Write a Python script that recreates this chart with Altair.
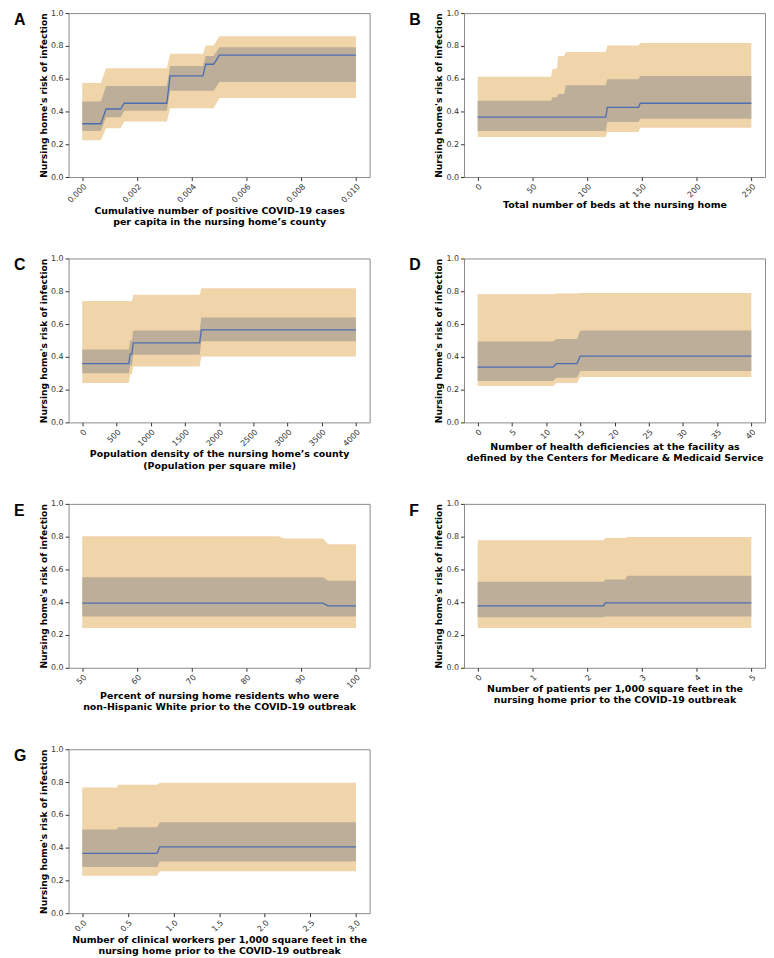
import altair as alt
import pandas as pd

# ---------------- data ----------------
Y_TICKS = [0.0, 0.2, 0.4, 0.6, 0.8, 1.0]
Y_TITLE = "Nursing home's risk of infection"

# Panel A
a_x = [0.0, 0.00068, 0.00087, 0.0014, 0.00153, 0.00309, 0.00321, 0.00441, 0.00451, 0.0048, 0.00501, 0.010]
a_mean = [0.325, 0.325, 0.415, 0.415, 0.45, 0.45, 0.617, 0.617, 0.688, 0.688, 0.744, 0.744]
a_ilo = [0.28, 0.28, 0.365, 0.365, 0.405, 0.405, 0.526, 0.526, 0.526, 0.526, 0.58, 0.58]
a_ihi = [0.46, 0.46, 0.556, 0.556, 0.556, 0.556, 0.677, 0.677, 0.738, 0.738, 0.792, 0.792]
a_olo = [0.224, 0.224, 0.298, 0.298, 0.339, 0.339, 0.419, 0.419, 0.419, 0.419, 0.482, 0.482]
a_ohi = [0.573, 0.573, 0.663, 0.663, 0.663, 0.663, 0.752, 0.752, 0.802, 0.802, 0.859, 0.859]
a_ticks = [0.0, 0.002, 0.004, 0.006, 0.008, 0.010]
a_title = ["Cumulative number of positive COVID-19 cases", "per capita in the nursing home\u2019s county"]

# Panel B
b_x = [0, 67, 68.5, 72.5, 73.5, 79, 80.5, 117, 118.5, 147, 148.5, 250]
b_mean = [0.365, 0.365, 0.365, 0.365, 0.365, 0.365, 0.365, 0.365, 0.425, 0.425, 0.45, 0.45]
b_ilo = [0.28, 0.28, 0.28, 0.28, 0.28, 0.28, 0.28, 0.28, 0.335, 0.335, 0.355, 0.355]
b_ihi = [0.466, 0.466, 0.486, 0.486, 0.506, 0.506, 0.56, 0.56, 0.597, 0.597, 0.617, 0.617]
b_olo = [0.244, 0.244, 0.244, 0.244, 0.244, 0.244, 0.244, 0.244, 0.274, 0.274, 0.30, 0.30]
b_ohi = [0.611, 0.611, 0.661, 0.661, 0.738, 0.738, 0.762, 0.762, 0.802, 0.802, 0.817, 0.817]
b_ticks = [0, 50, 100, 150, 200, 250]
b_title = ["Total number of beds at the nursing home"]

# Panel C
c_x = [0, 680, 700, 725, 745, 1716, 1740, 4000]
c_mean = [0.358, 0.358, 0.418, 0.418, 0.485, 0.485, 0.564, 0.564]
c_ilo = [0.30, 0.30, 0.347, 0.347, 0.412, 0.412, 0.495, 0.495]
c_ihi = [0.444, 0.444, 0.50, 0.50, 0.56, 0.56, 0.64, 0.64]
c_olo = [0.24, 0.24, 0.293, 0.293, 0.341, 0.341, 0.402, 0.402]
c_ohi = [0.741, 0.741, 0.741, 0.741, 0.778, 0.778, 0.818, 0.818]
c_ticks = [0, 500, 1000, 1500, 2000, 2500, 3000, 3500, 4000]
c_title = ["Population density of the nursing home\u2019s county", "(Population per square mile)"]

# Panel D
d_x = [0, 11, 11.5, 14.5, 15, 40]
d_mean = [0.337, 0.337, 0.358, 0.358, 0.404, 0.404]
d_ilo = [0.253, 0.253, 0.273, 0.273, 0.313, 0.313]
d_ihi = [0.493, 0.493, 0.509, 0.509, 0.56, 0.56]
d_olo = [0.222, 0.222, 0.24, 0.24, 0.277, 0.277]
d_ohi = [0.782, 0.782, 0.786, 0.786, 0.79, 0.79]
d_ticks = [0, 5, 10, 15, 20, 25, 30, 35, 40]
d_title = ["Number of health deficiencies at the facility as",
           "defined by the Centers for Medicare & Medicaid Service"]

# Panel E
e_x = [50, 85.9, 86.8, 94, 94.9, 100]
e_mean = [0.394, 0.394, 0.394, 0.394, 0.378, 0.378]
e_ilo = [0.313, 0.313, 0.313, 0.313, 0.313, 0.313]
e_ihi = [0.552, 0.552, 0.552, 0.552, 0.531, 0.531]
e_olo = [0.242, 0.242, 0.242, 0.242, 0.242, 0.242]
e_ohi = [0.802, 0.802, 0.788, 0.788, 0.754, 0.754]
e_ticks = [50, 60, 70, 80, 90, 100]
e_title = ["Percent of nursing home residents who were",
           "non-Hispanic White prior to the COVID-19 outbreak"]

# Panel F
f_x = [0, 2.3, 2.33, 2.7, 2.73, 5]
f_mean = [0.378, 0.378, 0.396, 0.396, 0.396, 0.396]
f_ilo = [0.309, 0.309, 0.313, 0.313, 0.313, 0.313]
f_ihi = [0.525, 0.525, 0.539, 0.539, 0.562, 0.562]
f_olo = [0.242, 0.242, 0.242, 0.242, 0.242, 0.242]
f_ohi = [0.778, 0.778, 0.792, 0.792, 0.798, 0.798]
f_ticks = [0, 1, 2, 3, 4, 5]
f_title = ["Number of patients per 1,000 square feet in the",
           "nursing home prior to the COVID-19 outbreak"]

# Panel G
g_x = [0, 0.38, 0.39, 0.82, 0.85, 3.0]
g_mean = [0.365, 0.365, 0.365, 0.365, 0.405, 0.405]
g_ilo = [0.282, 0.282, 0.282, 0.282, 0.315, 0.315]
g_ihi = [0.51, 0.51, 0.524, 0.524, 0.554, 0.554]
g_olo = [0.228, 0.228, 0.228, 0.228, 0.256, 0.256]
g_ohi = [0.766, 0.766, 0.784, 0.784, 0.796, 0.796]
g_ticks = [0.0, 0.5, 1.0, 1.5, 2.0, 2.5, 3.0]
g_title = ["Number of clinical workers per 1,000 square feet in the",
           "nursing home prior to the COVID-19 outbreak"]

PANELS = [
    ("A", a_x, a_mean, a_ilo, a_ihi, a_olo, a_ohi, a_ticks, ".3f", a_title),
    ("B", b_x, b_mean, b_ilo, b_ihi, b_olo, b_ohi, b_ticks, "d", b_title),
    ("C", c_x, c_mean, c_ilo, c_ihi, c_olo, c_ohi, c_ticks, "d", c_title),
    ("D", d_x, d_mean, d_ilo, d_ihi, d_olo, d_ohi, d_ticks, "d", d_title),
    ("E", e_x, e_mean, e_ilo, e_ihi, e_olo, e_ohi, e_ticks, "d", e_title),
    ("F", f_x, f_mean, f_ilo, f_ihi, f_olo, f_ohi, f_ticks, "d", f_title),
    ("G", g_x, g_mean, g_ilo, g_ihi, g_olo, g_ohi, g_ticks, ".1f", g_title),
]

OUTER = "#F0D4AA"
INNER = "#BCAE98"
LINE = "#4C6DB0"
W, H = 303, 165


def make_panel(letter, xs, mean, ilo, ihi, olo, ohi, ticks, fmt, title):
    df = pd.DataFrame({"x": xs, "mean": mean, "ilo": ilo, "ihi": ihi, "olo": olo, "ohi": ohi})
    lo, hi = ticks[0], ticks[-1]
    pad = 0.05 * (hi - lo)
    xscale = alt.Scale(domain=[lo - pad, hi + pad], nice=False, zero=False)
    xaxis = alt.Axis(values=ticks, format=fmt, title=title, labelAngle=315,
                     titlePadding=1, titleLineHeight=11.5)
    yscale = alt.Scale(domain=[0, 1], nice=False)
    yaxis = alt.Axis(values=Y_TICKS, format=".1f", title=Y_TITLE, titlePadding=2,
                     titleFontSize=9.2)
    xe = alt.X("x:Q", scale=xscale, axis=xaxis)
    base = alt.Chart(df)
    outer = base.mark_area(color=OUTER, opacity=1).encode(
        x=xe, y=alt.Y("olo:Q", scale=yscale, axis=yaxis), y2="ohi:Q")
    inner = base.mark_area(color=INNER, opacity=1).encode(
        x=xe, y=alt.Y("ilo:Q", scale=yscale, axis=yaxis), y2="ihi:Q")
    line = base.mark_line(color=LINE, strokeWidth=1.3).encode(
        x=xe, y=alt.Y("mean:Q", scale=yscale, axis=yaxis))
    lab = alt.Chart(pd.DataFrame({"t": [letter]})).mark_text(
        align="left", baseline="top", font="Liberation Sans", fontSize=16,
        fontWeight="bold", color="#000").encode(
        text="t:N", x=alt.value(-55), y=alt.value(-1))
    return alt.layer(outer, inner, line, lab).properties(width=W, height=H)


charts = [make_panel(*p) for p in PANELS]

chart = alt.concat(
    *charts, columns=2, spacing={"row": 82, "column": 95}, bounds="flush"
).properties(
    padding={"left": 5, "top": -3, "right": 0, "bottom": 0}
).configure_view(
    stroke="#8a8a8a", strokeWidth=1
).configure_axis(
    domain=False, grid=False, tickColor="#333", tickSize=3.5, labelPadding=2,
    labelFont="DejaVu Sans", labelFontSize=8, labelColor="#333",
    titleFont="DejaVu Sans", titleFontSize=9.5, titleFontWeight="bold", titleColor="#000"
)

chart.save("out.html", embed_options={"renderer": "svg", "actions": False})
